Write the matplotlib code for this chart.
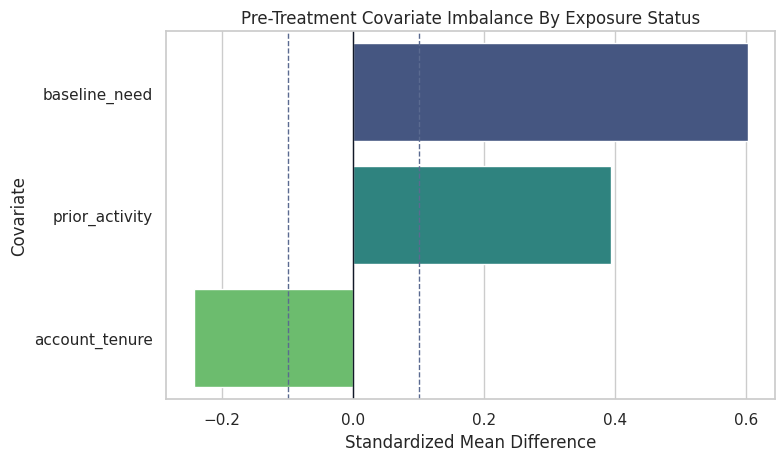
import matplotlib
matplotlib.use("Agg")
import matplotlib.pyplot as plt
import seaborn as sns
import pandas as pd

covariates = ["baseline_need", "prior_activity", "account_tenure"]
smd_values = [0.602, 0.393, -0.243]
threshold = 0.1

sns.set_theme(style="whitegrid")

df = pd.DataFrame({"covariate": covariates, "smd": smd_values})

fig, ax = plt.subplots(figsize=(7.84, 4.64), dpi=100)
sns.barplot(data=df, x="smd", y="covariate", hue="covariate", palette="viridis",
            legend=False, ax=ax)

ax.axvline(0, color="#111827", linewidth=1)
ax.axvline(threshold, color="#5a6a90", linestyle="--", linewidth=1)
ax.axvline(-threshold, color="#5a6a90", linestyle="--", linewidth=1)

ax.set_title("Pre-Treatment Covariate Imbalance By Exposure Status")
ax.set_xlabel("Standardized Mean Difference")
ax.set_ylabel("Covariate")

fig.subplots_adjust(left=0.212, right=0.989, top=0.931, bottom=0.138)
fig.savefig("out.png")
